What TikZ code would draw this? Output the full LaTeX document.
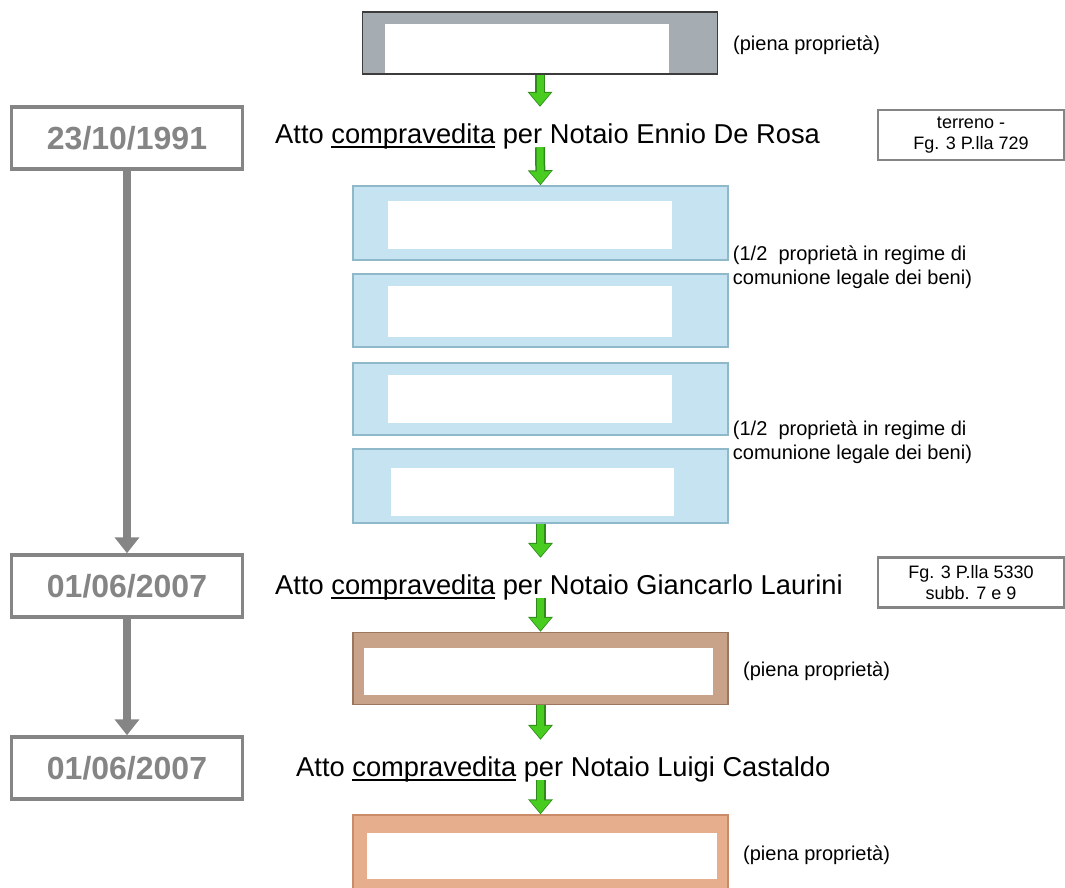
\documentclass[tikz,border=0pt]{standalone}
\usepackage{fontspec}
\setmainfont{Liberation Sans}
\usetikzlibrary{calc}
\usetikzlibrary{arrows.meta}

\definecolor{grigio}{HTML}{858585}
\definecolor{grigioscuro}{HTML}{3C3C3C}
\definecolor{grigiobox}{HTML}{A6ADB2}
\definecolor{azzurro}{HTML}{C5E3F0}
\definecolor{azzurrobordo}{HTML}{8FB9C8}
\definecolor{marrone}{HTML}{C9A28A}
\definecolor{marronebordo}{HTML}{9C775F}
\definecolor{arancio}{HTML}{E6AE8C}
\definecolor{aranciobordo}{HTML}{C98B68}
\definecolor{verde}{HTML}{47CC1F}
\definecolor{verdescuro}{HTML}{2E8B1A}

\newcommand{\sottolinea}[1]{\setbox0\hbox{#1}\rlap{\rule[-5pt]{\wd0}{1.6pt}}\box0\relax}

\begin{document}
\begin{tikzpicture}[x=1pt,y=-1pt,
  box/.style={draw,line width=1.5pt,minimum width=375pt,inner sep=0pt},
  bianco/.style={fill=white,inner sep=0pt},
  data/.style={draw=grigio,line width=3.5pt,minimum width=231pt,minimum height=62pt,text=grigio,font=\fontsize{32}{36}\selectfont\bfseries},
  atto/.style={anchor=base west,inner sep=0pt,text height=36pt,text depth=4pt,font=\fontsize{27.3}{32}\selectfont},
  nota/.style={anchor=west,inner sep=0pt,align=left,font=\fontsize{20}{24}\selectfont},
  catasto/.style={draw=grigio,line width=2.5pt,minimum width=186pt,minimum height=50pt,inner sep=0pt,align=center,font=\fontsize{18}{21}\selectfont},
  freccia/.style={preaction={draw=verdescuro,line width=10pt,shorten >=0pt,-{Triangle[width=24pt,length=15pt]}},
    draw=verde,line width=7pt,shorten >=1.4pt,-{Triangle[width=20.5pt,length=12.5pt]}},
  linea/.style={draw=grigio,line width=8pt,-{Triangle[width=24pt,length=16pt]}}]

\useasboundingbox (0,0) rectangle (1065,887);

% proprietario iniziale
\node[box,draw=grigioscuro,fill=grigiobox,minimum width=355pt,minimum height=62pt] (prop) at (540,43) {};
\node[bianco,minimum width=284pt,minimum height=49pt] (propb) at (527,48.5) {};
\node[nota] (piena1) at (733,45) {(piena proprietà)};

% date
\node[data] (d1) at (127,138) {23/10/1991};
\node[data] (d2) at (127,586) {01/06/2007};
\node[data] (d3) at (127,768) {01/06/2007};
\draw[linea] (d1.south)--(d2.north);
\draw[linea] (d2.south)--(d3.north);

% atti
\node[atto] (atto1) at (275,143) {Atto \sottolinea{compravedita} per Notaio Ennio De Rosa};
\node[atto] (atto2) at (275,594) {Atto \sottolinea{compravedita} per Notaio Giancarlo Laurini};
\node[atto] (atto3) at (296,776) {Atto \sottolinea{compravedita} per Notaio Luigi Castaldo};
\node[catasto] (cat1) at (971,135) {terreno -\\Fg. 3 P.lla 729};
\node[catasto] (cat2) at (971,582.5) {Fg. 3 P.lla 5330\\subb. 7 e 9};

% comproprietari
\node[box,draw=azzurrobordo,fill=azzurro,minimum height=74pt] (blu1) at (540.5,223) {};
\node[box,draw=azzurrobordo,fill=azzurro,minimum height=73pt] (blu2) at (540.5,310.5) {};
\node[box,draw=azzurrobordo,fill=azzurro,minimum height=72pt] (blu3) at (540.5,399) {};
\node[box,draw=azzurrobordo,fill=azzurro,minimum height=74pt] (blu4) at (540.5,486) {};
\node[bianco,minimum width=284pt,minimum height=48pt] (blu1b) at (530,225) {};
\node[bianco,minimum width=284pt,minimum height=51pt] (blu2b) at (530,311.5) {};
\node[bianco,minimum width=284pt,minimum height=48pt] (blu3b) at (530,399) {};
\node[bianco,minimum width=283pt,minimum height=48pt] (blu4b) at (532.5,492) {};
\node[nota,xshift=4pt] (meta1) at ($(blu1.south east)!0.5!(blu2.north east)$) {(1/2\ \ proprietà in regime di\\comunione legale dei beni)};
\node[nota,xshift=4pt] (meta2) at ($(blu3.south east)!0.5!(blu4.north east)$) {(1/2\ \ proprietà in regime di\\comunione legale dei beni)};

% acquirenti successivi
\node[box,draw=marronebordo,fill=marrone,minimum height=72pt] (marr) at (540.5,668.5) {};
\node[bianco,minimum width=349pt,minimum height=47pt] (marrb) at (538.5,671.5) {};
\node[nota] (piena2) at (743,671) {(piena proprietà)};
\node[box,draw=aranciobordo,fill=arancio,minimum height=77pt] (aran) at (540.5,853.5) {};
\node[bianco,minimum width=350pt,minimum height=46pt] (aranb) at (541.5,855.5) {};
\node[nota] (piena3) at (743,855) {(piena proprietà)};

% frecce verdi
\draw[freccia] (prop.south)--(prop.south |- atto1.north);
\draw[freccia] (prop.south |- atto1.south)--(blu1.north);
\draw[freccia] (blu4.south)--(blu4.south |- atto2.north);
\draw[freccia] (blu4.south |- atto2.south)--(marr.north);
\draw[freccia] (marr.south)--(marr.south |- atto3.north);
\draw[freccia] (marr.south |- atto3.south)--(aran.north);

\end{tikzpicture}
\end{document}
